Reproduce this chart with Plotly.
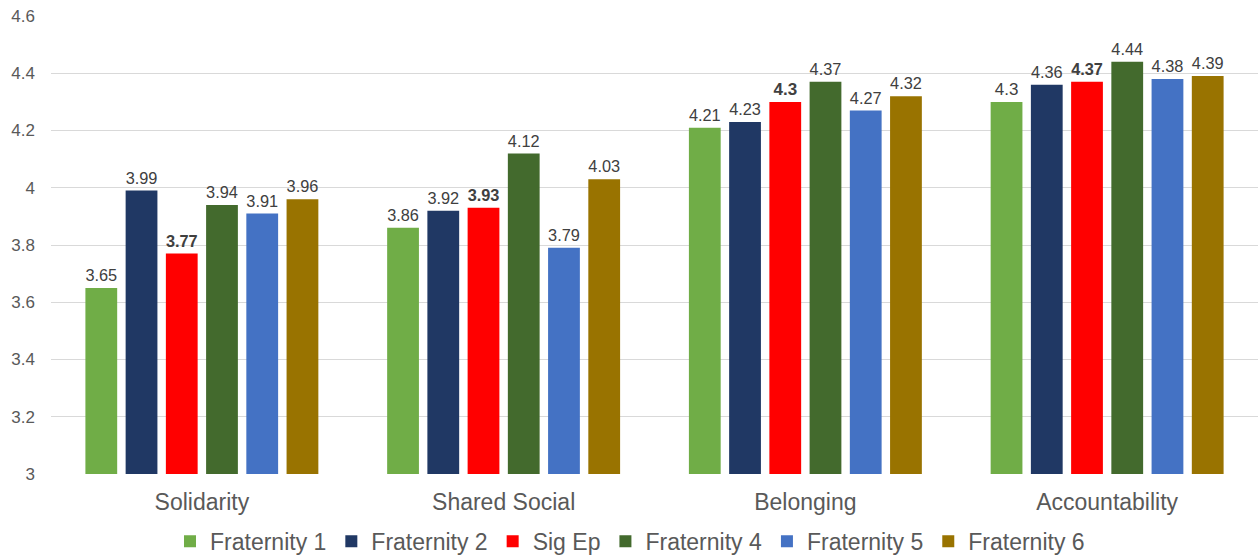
import plotly.graph_objects as go

categories = ["Solidarity", "Shared Social", "Belonging", "Accountability"]
series_names = ["Fraternity 1", "Fraternity 2", "Sig Ep", "Fraternity 4", "Fraternity 5", "Fraternity 6"]
fraternity_1 = [3.65, 3.86, 4.21, 4.30]
fraternity_2 = [3.99, 3.92, 4.23, 4.36]
sig_ep = [3.77, 3.93, 4.30, 4.37]
fraternity_4 = [3.94, 4.12, 4.37, 4.44]
fraternity_5 = [3.91, 3.79, 4.27, 4.38]
fraternity_6 = [3.96, 4.03, 4.32, 4.39]
y_ticks = [3, 3.2, 3.4, 3.6, 3.8, 4, 4.2, 4.4, 4.6]

series_values = [fraternity_1, fraternity_2, sig_ep, fraternity_4, fraternity_5, fraternity_6]
colors = ["#70ad47", "#203864", "#ff0000", "#436a2d", "#4472c4", "#997300"]

FONT = "Liberation Sans, Arial, sans-serif"

fig = go.Figure()
for name, vals, col in zip(series_names, series_values, colors):
    bold = name == "Sig Ep"
    fig.add_trace(go.Bar(
        name=name,
        x=categories,
        y=vals,
        marker=dict(color=col, line=dict(width=0)),
        text=[f"{v:g}" for v in vals],
        texttemplate="<b>%{text}</b>" if bold else "%{text}",
        textposition="outside",
        cliponaxis=False,
        textfont=dict(family=FONT, size=17, color="#404040"),
    ))

fig.update_layout(
    width=1260,
    height=558,
    barmode="group",
    bargap=0.2,
    bargroupgap=0.21,
    plot_bgcolor="white",
    paper_bgcolor="white",
    margin=dict(l=51, r=2, t=16, b=84, autoexpand=False),
    font=dict(family=FONT, color="#595959"),
    showlegend=True,
    legend=dict(
        orientation="h",
        x=0.5,
        xanchor="center",
        xref="container",
        y=0.03,
        yanchor="middle",
        yref="container",
        font=dict(family=FONT, size=23, color="#595959"),
        itemwidth=30,
        tracegroupgap=0,
    ),
)
fig.update_xaxes(
    showgrid=False,
    showline=False,
    ticks="",
    ticklabelstandoff=12,
    tickfont=dict(family=FONT, size=23, color="#595959"),
)
fig.update_yaxes(
    range=[3, 4.6],
    tickvals=y_ticks,
    ticktext=[f"{t:g}" for t in y_ticks],
    showgrid=True,
    gridcolor="#d9d9d9",
    gridwidth=1,
    zeroline=False,
    showline=False,
    ticks="",
    ticklabelstandoff=15,
    tickfont=dict(family=FONT, size=17, color="#595959"),
)

fig.write_html("out.html")
